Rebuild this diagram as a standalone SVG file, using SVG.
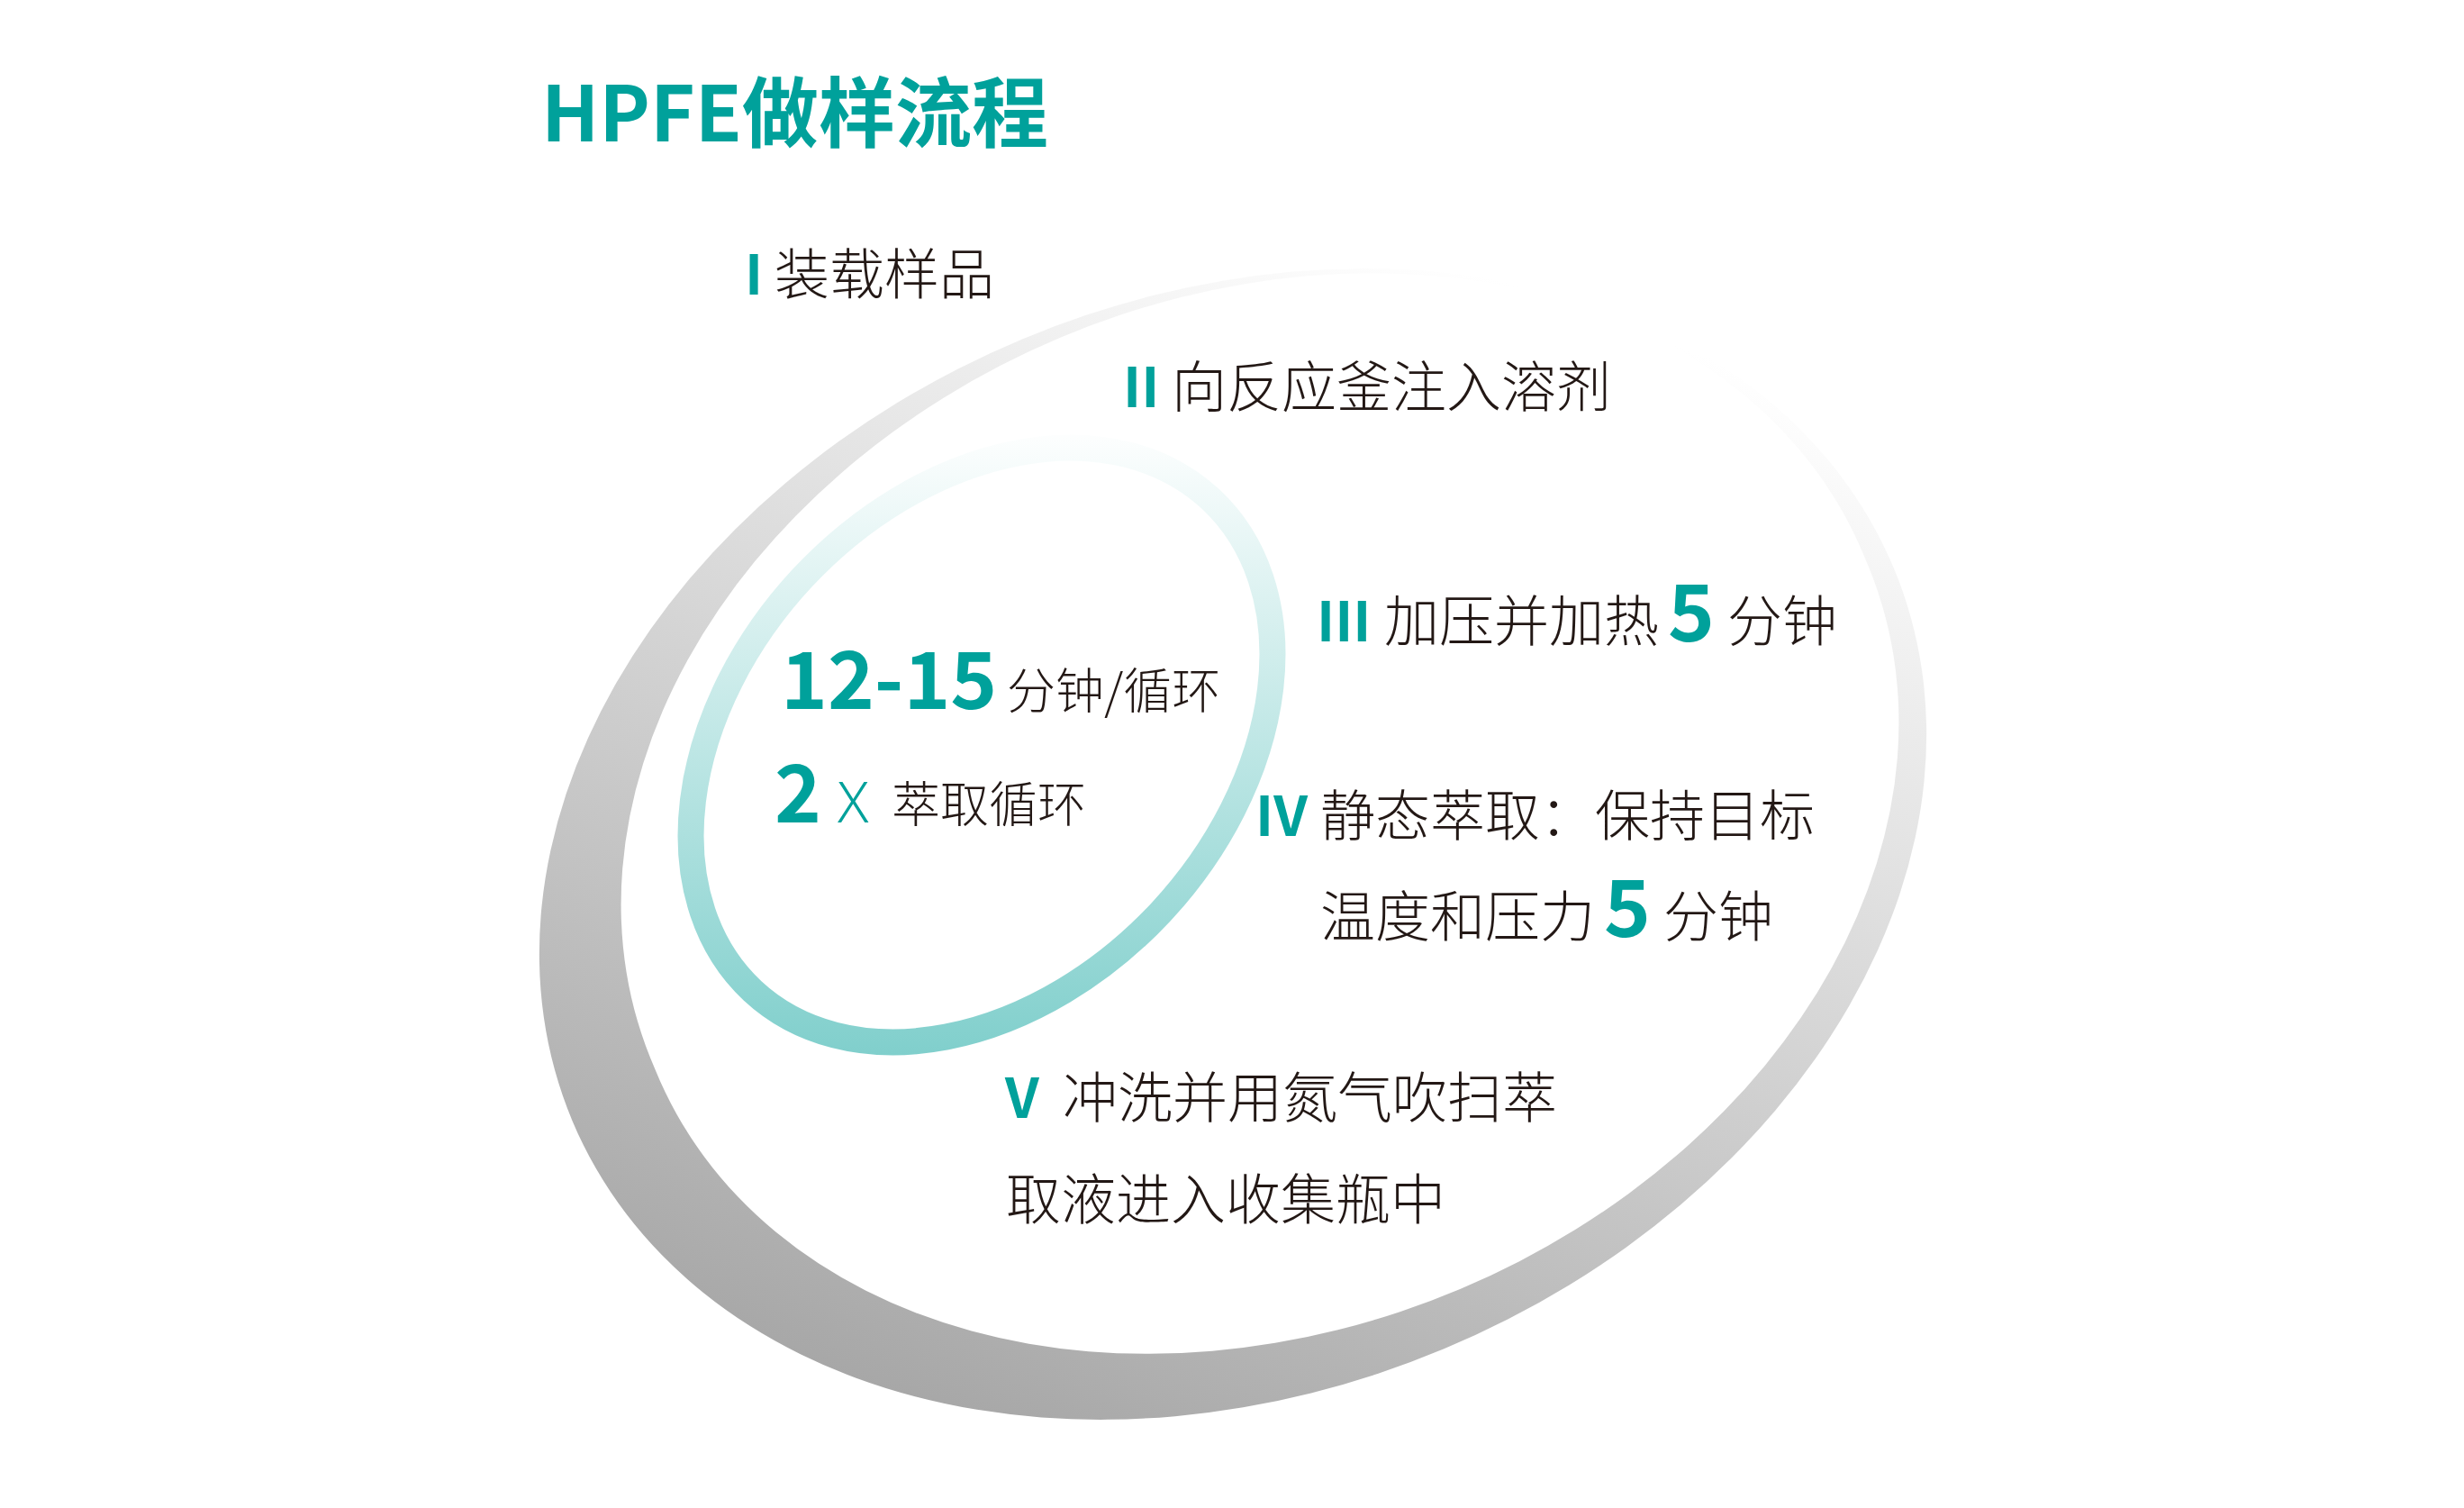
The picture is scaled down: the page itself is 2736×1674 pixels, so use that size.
<svg xmlns="http://www.w3.org/2000/svg" width="2736" height="1674" viewBox="0 0 2736 1674">
<defs>
<linearGradient id="gGray" gradientUnits="userSpaceOnUse" x1="1610" y1="290" x2="1084" y2="1703">
<stop offset="0" stop-color="#ffffff"/>
<stop offset="1" stop-color="#a0a0a0"/>
</linearGradient>
<linearGradient id="gTeal" gradientUnits="userSpaceOnUse" x1="0" y1="471" x2="0" y2="1172">
<stop offset="0" stop-color="#ffffff"/>
<stop offset="1" stop-color="#80cfcc"/>
</linearGradient>
<style>
.t{font-family:"Noto Sans CJK SC","Noto Sans",sans-serif;}
.title{font-size:85px;font-weight:700;fill:#00a19b;}
.num{font-weight:700;fill:#00a19b;font-size:61px;}
.big{font-weight:700;fill:#00a19b;font-size:88px;}
.txt{font-weight:300;fill:#231815;font-size:61px;}
.sm{font-weight:300;fill:#231815;font-size:54px;}
.x{font-family:"Noto Sans",sans-serif;font-weight:300;fill:#00a19b;font-size:63px;}
</style>
</defs>
<rect width="2736" height="1674" fill="#ffffff"/>
<g id="outer-ring">
<path fill="url(#gGray)" fill-rule="evenodd" d="M 2102.6 630.1 A 795.2 607.4 -22.7 1 0 635.4 1243.9 A 795.2 607.4 -22.7 1 0 2102.6 630.1 Z M 2070.7 619.3 A 729.2 566.5 -22.9 1 0 727.3 1186.7 A 729.2 566.5 -22.9 1 0 2070.7 619.3 Z"/>
</g>
<g id="teal-ring">
<path fill="none" stroke="url(#gTeal)" stroke-width="29" d="M 1344.4 554.2 A 373 272 -47 1 0 835.6 1099.8 A 373 272 -47 1 0 1344.4 554.2 Z"/>
</g>
<g id="title"><text class="t title" x="601" y="157">HPFE做样流程</text></g>
<g id="step1">
<text class="t num" x="827" y="327">I</text>
<text class="t txt" x="860" y="327">装载样品</text>
</g>
<g id="step2">
<text class="t num" x="1247" y="452">II</text>
<text class="t txt" x="1301" y="452">向反应釜注入溶剂</text>
</g>
<g id="step3">
<text class="t num" x="1462" y="712">III</text>
<text class="t txt" x="1537" y="712">加压并加热</text>
<text class="t big" x="1852" y="712">5</text>
<text class="t txt" x="1918" y="712">分钟</text>
</g>
<g id="cycle">
<text class="t big" x="867" y="787">12-15</text>
<text class="t sm" x="1118" y="787">分钟/循环</text>
<text class="t big" x="860" y="913">2</text>
<text class="t x" x="930" y="913">X</text>
<text class="t sm" x="990" y="913">萃取循环</text>
</g>
<g id="step4">
<text class="t num" x="1394" y="928">IV</text>
<text class="t txt" x="1466" y="928">静态萃取：保持目标</text>
<text class="t txt" x="1466" y="1040">温度和压力</text>
<text class="t big" x="1781" y="1040">5</text>
<text class="t txt" x="1847" y="1040">分钟</text>
</g>
<g id="step5">
<text class="t num" x="1116" y="1241">V</text>
<text class="t txt" x="1180" y="1241">冲洗并用氮气吹扫萃</text>
<text class="t txt" x="1117" y="1354">取液进入收集瓶中</text>
</g>
</svg>
